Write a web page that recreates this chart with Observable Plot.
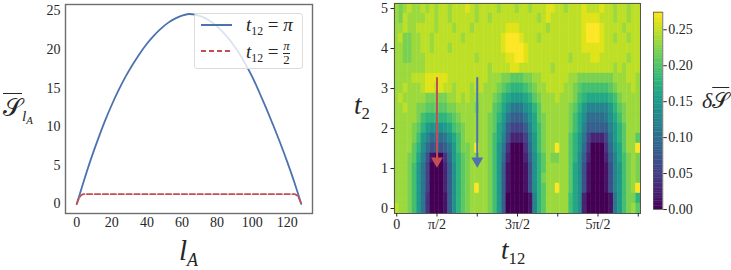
<!DOCTYPE html>
<html><head><meta charset="utf-8">
<script src="https://cdn.jsdelivr.net/npm/d3@7"></script>
<script src="https://cdn.jsdelivr.net/npm/@observablehq/plot@0.6"></script>
<style>
html,body{margin:0;padding:0;background:#fff;}
#wrap{position:relative;width:731px;height:270px;overflow:hidden;font-family:'Liberation Serif',serif;color:#262626;}
#wrap svg text{font-family:'Liberation Serif',serif !important;font-size:14px;fill:#262626;}
.abs{position:absolute;white-space:nowrap;line-height:1;font-family:'Liberation Serif',serif !important;}
.m{font-style:italic;}
.sub{font-size:0.62em;position:relative;top:0.32em;}
.ol{text-decoration:overline;text-decoration-thickness:1.2px;}
.frac{display:inline-flex;flex-direction:column;vertical-align:middle;font-size:0.68em;line-height:1;text-align:center;}
.frac .den{border-top:1px solid #262626;}
</style></head><body>
<div id="wrap"></div>
<script>
// ---------- left panel: mean entanglement vs subsystem size ----------
const lA = [0,4,8,12,16,20,24,28,32,36,40,44,48,52,56,60,64,68,72,76,80,84,88,92,96,100,104,108,112,116,120,124,128];
const S_t12_pi = [0,2.95,5.75,8.3,10.7,12.85,14.8,16.55,18.1,19.5,20.75,21.8,22.7,23.45,24.0,24.4,24.6,24.5,24.2,23.7,23.0,22.1,21.0,19.7,18.2,16.5,14.5,12.4,10.2,7.9,5.45,2.85,0];
const lA_half = [0,1,2,3,4,5,123,124,125,126,127,128];
const S_t12_half = [0,0.6,1.0,1.2,1.27,1.29,1.29,1.27,1.2,1.0,0.6,0];
const leftXTicks = [0,20,40,60,80,100,120];
const leftYTicks = [0,5,10,15,20,25];

// ---------- right panel: heatmap of delta S over (t12, t2) ----------
const t2Values = [5,4.75,4.5,4.25,4,3.75,3.5,3.25,3,2.75,2.5,2.25,2,1.75,1.5,1.25,1,0.75,0.5,0.25,0];
const t12Step = Math.PI/18;   // 55 columns from 0 to 3*pi
const levelStep = 0.01375;    // char level (base 36) -> value
const heatRows = [
"hghih hihih iihii ijihi iiihi iihii hiiij jiihi iijii ijiih iihii",
"hgihh hhiih iihii iiihi ihiii iiiii iihij iiiii iijjj jiiih iihii",
"hhihh iiiih iiihi iihii iiiii jjjii iiiih iiiii iijkk kjiii ihiii",
"higgh hiihi iiiii hiiii iiiij kkkji iihii iiiii iijkk kjiih iihii",
"hhggh hiihi iihii iiiii iiiij kkkkj iiiii iiiii iijjj jjiii iiiii",
"hhggh hhiii iiiii iiihi iiiii jjkkj iiiii iiiih iiiij jiiii iihii",
"hhhhh hhiii iiiii iiiii ihiii ijjii iiiii hiiii iiiii iiiih ihiii",
"hhhhi iijjj jjiii iiiii ihhhg gfffg ghhii iiiih hgggg ggggh hhiih",
"hhihh hijji jiihi iihii hhhgf eddde fghhi iiihh gfeee eeefg hhhih",
"hihhh hhggg gghhi hihhh hhgfd cbbbc dfghh hihhh gedcc cccde ghhhh",
"hhihh ggfff ffggh hhhgh hhfec a888a bdfhh hhhhg fdb99 999bd fghhh",
"hhhhh geddd ddefg hhhhh hgfdb 86668 acfgh hhhhg eca77 778ac eghhh",
"hhhhg fdbaa abcef ghhhh hgfca 64446 9cegh hhhhg ec966 6669b dfhhh",
"hhhhg eb977 78ace ghhhh hgec9 52224 8begh hhhhf db842 2248b dfhhf",
"hhhhf da755 568be gghkh hgeb8 30003 7begh hkhhf db730 0037a cfhhk",
"hhhgf c9510 037bd fghgh hgeb7 20002 6adfh gghhf da620 00269 ceghg",
"hhhge b8400 026ad fghhh hgeb6 10001 5adfh hhhhf ca510 00159 beghg",
"hhhge b8400 026ad fghhh hgeb6 10001 5adgh hhhhf ca510 00159 beghg",
"hhhge b8400 026ad fghkh hgeb6 10001 5adfh hkhhf ca510 00159 beghk",
"hhhge b8300 016ad fghhh hgeb6 00000 19dfh hhhhe ca200 00018 beggd",
"ihhge b8300 016ad fghhh hgeb6 00000 19dfh hhhhe ca200 00018 beghf"
];
const rightXTicks = [0, Math.PI/2, Math.PI, 3*Math.PI/2, 2*Math.PI, 5*Math.PI/2, 3*Math.PI];
const rightXTickLabels = ["0","π/2","","3π/2","","5π/2",""];
const rightYTicks = [0,1,2,3,4,5];
const cbTicks = [0,0.05,0.10,0.15,0.20,0.25];
const cbMax = 0.2745;
const arrowT12 = [Math.PI/2, Math.PI];
const arrowFrom = [3.27, 3.27];
const arrowTo = [1.02, 1.02];
const arrowColors = ["#c44e52", "#4c72b0"];

// ---------- build ----------
const wrap = document.getElementById("wrap");
const baseStyle = "font-family:'Liberation Serif',serif;font-size:14px;color:#262626;background:transparent;overflow:visible;";
function place(el, left, top){ el.style.position="absolute"; el.style.left=left+"px"; el.style.top=top+"px"; wrap.appendChild(el); }

const piData = lA.map((l,i)=>({l, s:S_t12_pi[i]}));
const halfData = lA_half.map((l,i)=>({l, s:S_t12_half[i]}));

const left = Plot.plot({
  width:320, height:240, marginLeft:65, marginRight:8, marginTop:4, marginBottom:27,
  style: baseStyle,
  x:{domain:[-6.4,134.4]}, y:{domain:[-1.23,25.83]},
  marks:[
    Plot.axisX(leftXTicks,{tickSize:0,tickPadding:4,label:null}),
    Plot.axisY(leftYTicks,{tickSize:0,tickPadding:5,label:null}),
    Plot.line(piData,{x:"l",y:"s",stroke:"#4c72b0",strokeWidth:1.8,curve:"monotone-x"}),
    Plot.line(halfData,{x:"l",y:"s",stroke:"#c44e52",strokeWidth:1.8,strokeDasharray:"5.5,2.4",curve:"monotone-x"}),
    Plot.frame({stroke:"#6e6e6e",strokeWidth:1.4})
  ]
});
place(left,0,0);

const cells = [];
heatRows.forEach((row,i)=>{
  const s = row.replace(/ /g,"");
  for(let k=0;k<s.length;k++) cells.push({t12:k*t12Step, t2:t2Values[i], v:parseInt(s[k],36)*levelStep});
});
const hx = t12Step/2, hy = 0.125;
const arrowMarks = arrowT12.flatMap((x,i)=>[
  Plot.ruleX([x],{y1:arrowFrom[i], y2:arrowTo[i]+0.2, stroke:arrowColors[i], strokeWidth:2}),
  Plot.dot([x],{x:d=>d, y:()=>arrowTo[i]+0.17, symbol:"triangle", rotate:180, r:4.4, fill:arrowColors[i], stroke:"none"})
]);
const right = Plot.plot({
  width:310, height:240, marginLeft:54, marginRight:10, marginTop:3, marginBottom:27,
  style: baseStyle,
  x:{domain:[-hx, 3*Math.PI+hx]}, y:{domain:[-hy, 5+hy]},
  color:{type:"linear", scheme:"viridis", domain:[0,0.275]},
  marks:[
    Plot.rect(cells,{x1:d=>d.t12-hx, x2:d=>d.t12+hx, y1:d=>d.t2-hy, y2:d=>d.t2+hy, fill:"v", stroke:"v", strokeWidth:0.4}),
    ...arrowMarks,
    Plot.frame({stroke:"#555",strokeWidth:1}),
    Plot.axisX(rightXTicks,{tickSize:3.5,tickPadding:2,label:null,tickFormat:d=>rightXTickLabels[rightXTicks.indexOf(d)]}),
    Plot.axisY(rightYTicks,{tickSize:3.5,tickPadding:3,label:null})
  ]
});
place(right,340,0);

const cbStops = d3.range(0, cbMax, cbMax/120);
const cb = Plot.plot({
  width:90, height:240, marginLeft:23, marginRight:57.7, marginTop:11.7, marginBottom:31,
  style: baseStyle,
  x:{domain:[0,1], axis:null}, y:{domain:[0,cbMax]},
  color:{type:"linear", scheme:"viridis", domain:[0,0.275]},
  marks:[
    Plot.rect(cbStops,{x1:0,x2:1,y1:d=>d,y2:d=>Math.min(cbMax,d+cbMax/120+0.0005),fill:d=>d+cbMax/240}),
    Plot.frame({stroke:"#555",strokeWidth:0.8}),
    Plot.axisY(cbTicks,{anchor:"right",tickSize:3.5,tickPadding:2,label:null,tickFormat:d3.format(".2f")})
  ]
});
place(cb,630,0);

// ---------- text labels & legend ----------
function addHTML(html, left, top, size){
  const d=document.createElement("div"); d.className="abs"; d.style.fontSize=size+"px"; d.innerHTML=html; place(d,left,top); return d;
}
addHTML('<span class="ol">𝒮</span><span class="sub m">l<span style="font-size:0.7em;position:relative;top:0.25em">A</span></span>', 3, 95, 25);
addHTML('<span class="m">l</span><span class="sub m">A</span>', 179, 236, 29);
addHTML('<span class="m">t</span><span class="sub">2</span>', 354, 92, 27);
addHTML('<span class="m">t</span><span class="sub">12</span>', 501, 237, 27);
addHTML('<span class="m">δ</span><span class="ol">𝒮</span>', 702, 90, 22);

const lg = document.createElement("div");
lg.style.cssText = "width:109px;height:56px;background:rgba(255,255,255,0.8);border:1px solid #dcdcdc;border-radius:3px;box-sizing:border-box;";
lg.innerHTML =
  '<div style="position:absolute;left:6px;top:10px;width:31px;height:2px;background:#4c72b0"></div>'+
  '<div style="position:absolute;left:6px;top:36px;width:31px;height:2px;background:repeating-linear-gradient(90deg,#c44e52 0 5.5px,transparent 5.5px 8px)"></div>'+
  '<div class="abs" style="left:51px;top:1px;font-size:19px"><span class="m">t</span><span class="sub">12</span> = <span class="m">π</span></div>'+
  '<div class="abs" style="left:51px;top:26px;font-size:19px"><span class="m">t</span><span class="sub">12</span> = <span class="frac"><span class="m">π</span><span class="den">2</span></span></div>';
place(lg,194,13);
</script>
</body></html>
